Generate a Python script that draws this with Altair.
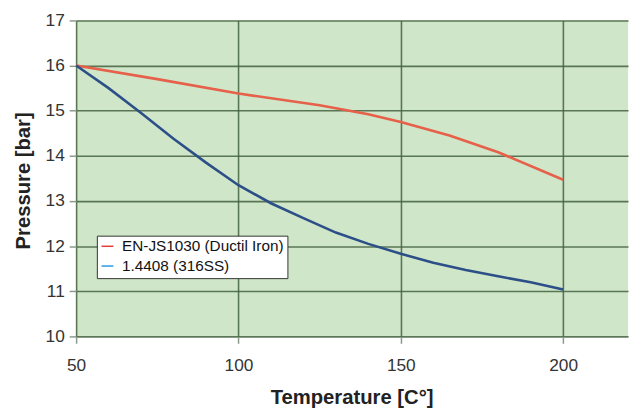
import altair as alt
import pandas as pd

series_names = ["EN-JS1030 (Ductil Iron)", "1.4408 (316SS)"]

iron_temp = [50, 75, 100, 125, 140, 150, 165, 180, 200]
iron_pressure = [16.0, 15.7, 15.38, 15.12, 14.92, 14.75, 14.45, 14.08, 13.47]

ss_temp = [50, 60, 70, 80, 90, 100, 110, 120, 130, 140, 150, 160, 170, 180, 190, 200]
ss_pressure = [16.0, 15.5, 14.95, 14.38, 13.85, 13.35, 12.95, 12.62, 12.3, 12.05,
               11.83, 11.63, 11.47, 11.33, 11.2, 11.04]

x_ticks = [50, 100, 150, 200]
y_ticks = [10, 11, 12, 13, 14, 15, 16, 17]

line_colors = ["#e6604a", "#2d4f88"]
legend_colors = ["#e63a3a", "#2a9ae0"]

rows = []
for t, p in zip(iron_temp, iron_pressure):
    rows.append({"series": series_names[0], "temp": t, "pressure": p})
for t, p in zip(ss_temp, ss_pressure):
    rows.append({"series": series_names[1], "temp": t, "pressure": p})
df = pd.DataFrame(rows)

FONT = "Liberation Sans"

x_enc = alt.X(
    "temp:Q",
    scale=alt.Scale(domain=[50, 220], nice=False, zero=False),
    axis=alt.Axis(
        values=x_ticks,
        title="Temperature [C°]",
        titleFont=FONT, titleFontSize=20.5, titleFontWeight="bold", titleColor="#222",
        titleX=279, titleY=62, titleBaseline="middle", titleAlign="center",
        labelFont=FONT, labelFontSize=17.5, labelColor="#333", labelPadding=14,
        labelFlush=False,
        tickColor="#8a9a8a", tickSize=7, tickWidth=1.5,
        grid=True, gridColor="#44613f", gridWidth=1.6, gridOpacity=0.85,
        domain=False,
    ),
)
y_enc = alt.Y(
    "pressure:Q",
    scale=alt.Scale(domain=[10, 17], nice=False, zero=False),
    axis=alt.Axis(
        values=y_ticks,
        title="Pressure [bar]",
        titleFont=FONT, titleFontSize=20.5, titleFontWeight="bold", titleColor="#222",
        titleX=-53, titleY=162, titleBaseline="middle", titleAlign="center",
        labelFont=FONT, labelFontSize=17.5, labelColor="#333", labelPadding=5,
        tickColor="#8a9a8a", tickSize=7, tickWidth=1.5,
        grid=True, gridColor="#44613f", gridWidth=1.6, gridOpacity=0.85,
        domain=False,
    ),
)

legend_layer = alt.Chart(df).mark_line(strokeWidth=1).encode(
    x=x_enc,
    y=y_enc,
    color=alt.Color(
        "series:N",
        scale=alt.Scale(domain=series_names, range=legend_colors),
        legend=alt.Legend(
            title=None,
            orient="none",
            legendX=21,
            legendY=218,
            fillColor="white",
            strokeColor="#333",
            padding=3,
            symbolType="stroke",
            symbolSize=144,
            symbolStrokeWidth=1.5,
            labelFont=FONT,
            labelFontSize=15.5,
            labelColor="#111",
            labelLimit=300,
            rowPadding=3,
            labelOffset=7,
        ),
    ),
)

line_layer = alt.Chart(df).mark_line(strokeWidth=2.6).encode(
    x=alt.X("temp:Q"),
    y=alt.Y("pressure:Q"),
    color=alt.Color(
        "series:N",
        scale=alt.Scale(domain=series_names, range=line_colors),
        legend=None,
    ),
)

chart = (
    alt.layer(legend_layer, line_layer)
    .resolve_scale(color="independent")
    .properties(
        width=559,
        height=320,
        autosize=alt.AutoSizeParams(type="none"),
        padding={"left": 69, "top": 10, "right": 5, "bottom": 75},
        background="white",
    )
    .configure_view(fill="#cfe6c9", stroke=None)
)

chart.save("out.html", embed_options={"renderer": "svg", "actions": False})
